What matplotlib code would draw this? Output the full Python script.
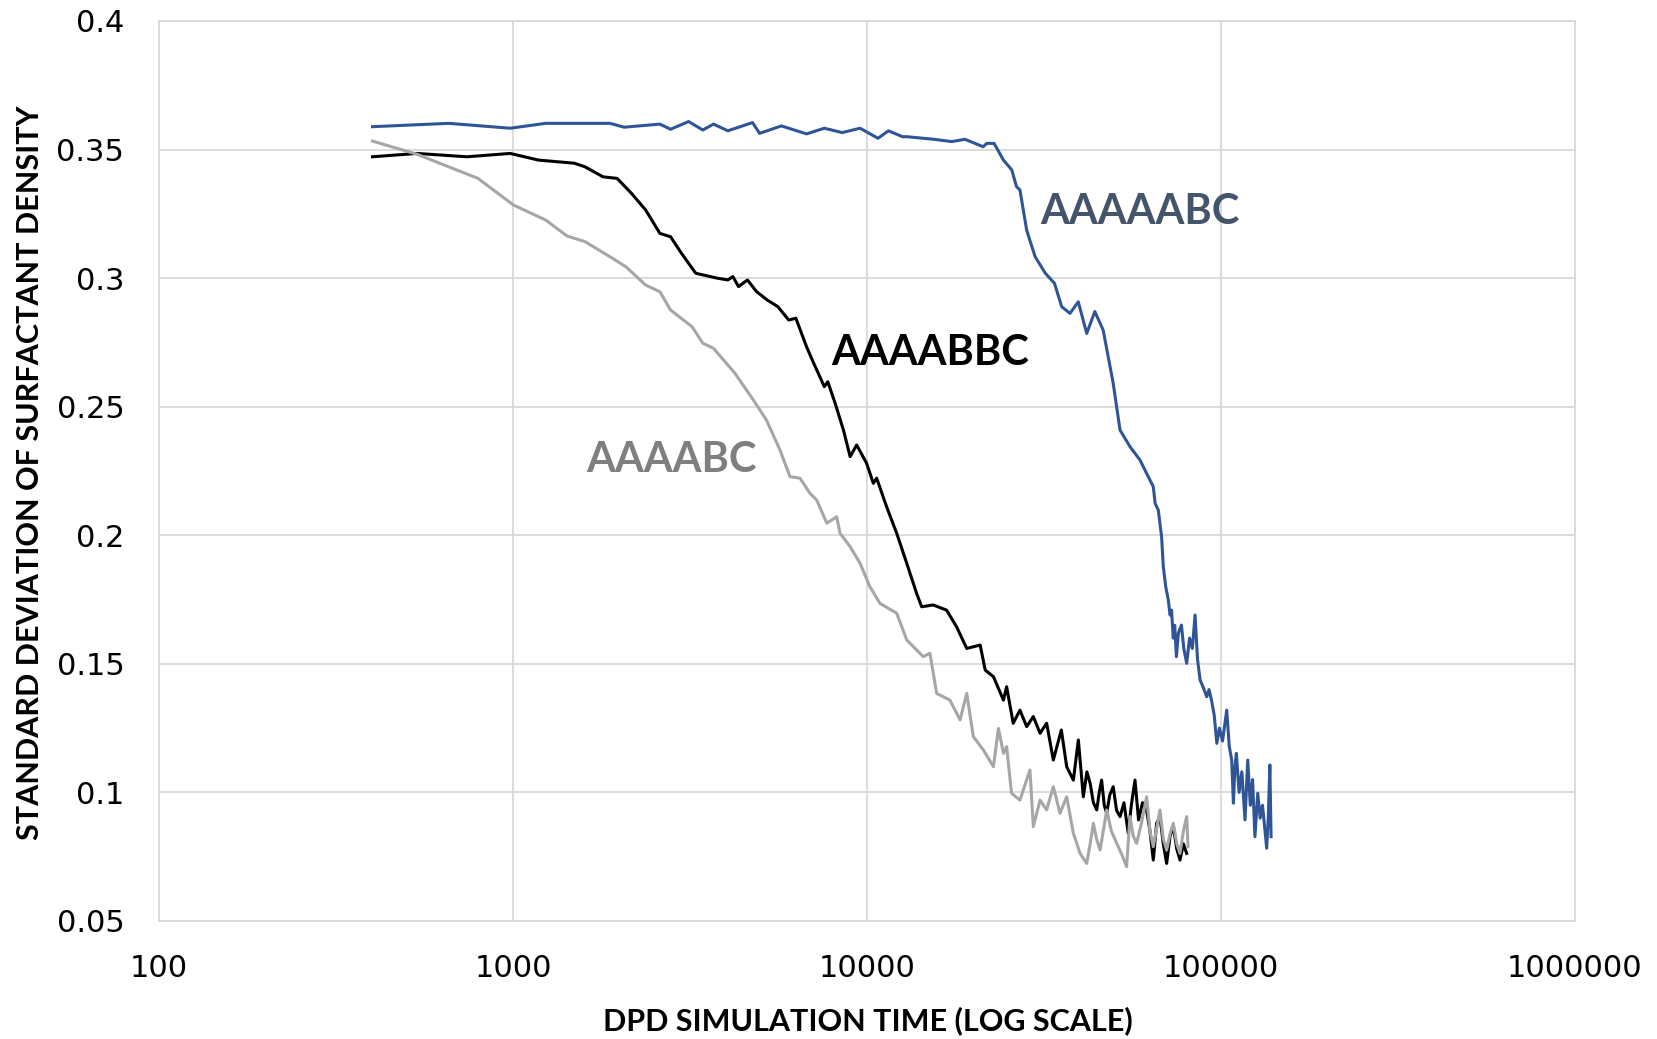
import matplotlib
matplotlib.use("Agg")
import matplotlib.pyplot as plt
from matplotlib.ticker import FixedLocator, NullLocator

# AAAAABC (blue)
blue_t = [401, 659, 982, 1237, 1880, 2060, 2600, 2787, 3133, 3438, 3685, 4045, 4750,
          4972, 5730, 6750, 7577, 8510, 9560, 10740, 11500, 12600, 12970, 15450, 17360,
          18910, 21290, 21790, 22860, 24290, 25640, 26440, 27040, 28250, 28830, 29860,
          31900, 33850, 35480, 37450, 39520, 41750, 44020, 46470, 49600, 51860, 55300,
          59020, 61630, 64380, 65150, 66500, 67950, 68710, 69800, 70980, 71800, 72500,
          73300, 74000, 74820, 75800, 77300, 78500, 80000, 81500, 83000, 84480, 85800,
          87290, 89000, 91160, 92500, 94000, 95700, 97310, 99000, 101000, 103800, 105500,
          107200, 108400, 109500, 110500, 112500, 114500, 116900, 119000, 121000, 122800,
          124700, 127000, 129000, 131000, 134600, 136000, 137400, 138500]
blue_y = [0.3589, 0.3602, 0.3583, 0.3602, 0.3602, 0.3587, 0.3599, 0.3579, 0.3609, 0.3576,
          0.3599, 0.3573, 0.3605, 0.3563, 0.3592, 0.3561, 0.3583, 0.3566, 0.3583, 0.3544,
          0.3573, 0.3550, 0.3550, 0.3540, 0.3531, 0.3540, 0.3511, 0.3524, 0.3524, 0.3459,
          0.3421, 0.3356, 0.3343, 0.3187, 0.3148, 0.3083, 0.3019, 0.2980, 0.2889, 0.2863,
          0.2908, 0.2785, 0.2870, 0.2798, 0.2591, 0.2409, 0.2345, 0.2293, 0.2241, 0.2189,
          0.2124, 0.2098, 0.1994, 0.1878, 0.1800, 0.1748, 0.1690, 0.1709, 0.1600, 0.1650,
          0.1528, 0.1620, 0.1651, 0.1560, 0.1502, 0.1600, 0.1560, 0.1690, 0.1520, 0.1437,
          0.1410, 0.1372, 0.1400, 0.1359, 0.1300, 0.1191, 0.1250, 0.1200, 0.1320, 0.1180,
          0.1126, 0.0958, 0.1100, 0.1152, 0.1000, 0.1080, 0.0893, 0.1126, 0.0950, 0.1050,
          0.0828, 0.0997, 0.0900, 0.0950, 0.0783, 0.0900, 0.1107, 0.0828]

# AAAABBC (black)
black_t = [401, 535, 741, 982, 1181, 1489, 1597, 1796, 1968, 2160, 2370, 2600, 2787, 2990,
           3282, 3770, 4045, 4180, 4336, 4595, 4872, 5225, 5601, 6010, 6296, 6750, 7070,
           7577, 7750, 8130, 8580, 8960, 9350, 9975, 10420, 10650, 11360, 12130, 12950,
           13810, 14270, 15380, 16780, 17910, 19130, 20880, 21570, 22760, 24290, 24800,
           25880, 27040, 28250, 29500, 30820, 32170, 33600, 35400, 36650, 38280, 39540,
           40840, 41800, 42700, 43600, 44560, 45300, 46000, 46800, 47550, 48500, 49600,
           50700, 51860, 53200, 54700, 55800, 57150, 58500, 60000, 61630, 63000, 64380,
           65800, 67240, 68700, 70220, 71800, 73340, 75000, 76590, 78300, 80000]
black_y = [0.3472, 0.3485, 0.3472, 0.3485, 0.3459, 0.3447, 0.3433, 0.3394, 0.3388, 0.3330,
           0.3265, 0.3174, 0.3161, 0.3097, 0.3019, 0.3000, 0.2993, 0.3006, 0.2967, 0.2993,
           0.2948, 0.2915, 0.2889, 0.2837, 0.2844, 0.2733, 0.2669, 0.2578, 0.2597, 0.2513,
           0.2409, 0.2306, 0.2351, 0.2280, 0.2202, 0.2222, 0.2111, 0.2008, 0.1891, 0.1774,
           0.1722, 0.1729, 0.1709, 0.1644, 0.1560, 0.1573, 0.1476, 0.1450, 0.1359, 0.1411,
           0.1269, 0.1320, 0.1256, 0.1295, 0.1230, 0.1269, 0.1126, 0.1243, 0.1100, 0.1048,
           0.1204, 0.0983, 0.1080, 0.1035, 0.0960, 0.0932, 0.1000, 0.1048, 0.0950, 0.0919,
           0.0990, 0.1022, 0.0930, 0.0906, 0.0960, 0.0841, 0.0950, 0.1048, 0.0893, 0.0960,
           0.0932, 0.0850, 0.0737, 0.0880, 0.0906, 0.0800, 0.0724, 0.0830, 0.0867, 0.0780,
           0.0737, 0.0800, 0.0763]

# AAAABC (grey)
grey_t = [401, 535, 796, 1004, 1237, 1421, 1597, 1880, 2085, 2370, 2600, 2787, 3205, 3438,
          3685, 4237, 4775, 5200, 5676, 6060, 6467, 6904, 7210, 7700, 8210, 8390, 8960,
          9560, 10190, 10880, 12130, 12950, 13810, 14420, 15060, 15730, 17150, 18320,
          19130, 19970, 21320, 22760, 23510, 24290, 24800, 25600, 27040, 28860, 29500,
          30820, 32170, 33600, 35100, 36650, 38280, 39980, 41750, 42700, 43600, 44500,
          45530, 46500, 47550, 49000, 50740, 52400, 54120, 55300, 56500, 57760, 59600,
          61630, 63000, 64380, 65800, 67240, 68700, 70220, 71800, 73340, 75000, 76590,
          78300, 80000, 80700]
grey_y = [0.3533, 0.3482, 0.3388, 0.3284, 0.3226, 0.3164, 0.3142, 0.3083, 0.3044, 0.2973,
          0.2947, 0.2876, 0.2811, 0.2747, 0.2727, 0.2630, 0.2526, 0.2448, 0.2332, 0.2228,
          0.2222, 0.2163, 0.2137, 0.2047, 0.2072, 0.2008, 0.1956, 0.1891, 0.1800, 0.1735,
          0.1697, 0.1593, 0.1554, 0.1528, 0.1541, 0.1385, 0.1359, 0.1282, 0.1385, 0.1217,
          0.1165, 0.1100, 0.1249, 0.1152, 0.1178, 0.0997, 0.0970, 0.1087, 0.0867, 0.0970,
          0.0932, 0.1022, 0.0919, 0.0983, 0.0841, 0.0763, 0.0724, 0.0800, 0.0880, 0.0820,
          0.0776, 0.0850, 0.0932, 0.0850, 0.0802, 0.0760, 0.0711, 0.0906, 0.0830, 0.0802,
          0.0880, 0.0983, 0.0850, 0.0789, 0.0860, 0.0932, 0.0820, 0.0776, 0.0840, 0.0880,
          0.0800, 0.0763, 0.0850, 0.0906, 0.0789]

x_ticks = [100, 1000, 10000, 100000, 1000000]
x_labels = ["100", "1000", "10000", "100000", "1000000"]
y_ticks = [0.05, 0.1, 0.15, 0.2, 0.25, 0.3, 0.35, 0.4]
y_labels = ["0.05", "0.1", "0.15", "0.2", "0.25", "0.3", "0.35", "0.4"]

grid_col = "#d9d9d9"

fig = plt.figure(figsize=(16.58, 10.39), dpi=100)
ax = fig.add_axes([159 / 1658, 1 - 921 / 1039, 1416 / 1658, 900 / 1039])

ax.plot(blue_t, blue_y, color="#2f5597", lw=2.2, zorder=3)
ax.plot(black_t, black_y, color="#000000", lw=2.2, zorder=3)
ax.plot(grey_t, grey_y, color="#a6a6a6", lw=2.2, zorder=4)

ax.set_xscale("log")
ax.set_xlim(100, 1000000)
ax.set_ylim(0.05, 0.4)
ax.xaxis.set_major_locator(FixedLocator(x_ticks))
ax.xaxis.set_minor_locator(NullLocator())
ax.set_xticklabels(x_labels)
ax.set_yticks(y_ticks)
ax.set_yticklabels(y_labels)
ax.tick_params(length=0, labelsize=22, colors="#000000")
ax.tick_params(axis="y", pad=25)
ax.tick_params(axis="x", pad=24)
for lab in ax.get_xticklabels() + ax.get_yticklabels():
    lab.set_family("DejaVu Sans")
ax.grid(True, color=grid_col, lw=1.3)
ax.set_axisbelow(True)
for s in ax.spines.values():
    s.set_color(grid_col)
    s.set_linewidth(1.3)

ax.text(30800, 0.3257, "AAAAABC", color="#44546a", fontsize=30, fontweight="bold",
        family="Lato", ha="left", va="center")
ax.text(7910, 0.2709, "AAAABBC", color="#000000", fontsize=30, fontweight="bold",
        family="Lato", ha="left", va="center")
ax.text(1607, 0.2293, "AAAABC", color="#7f7f7f", fontsize=30, fontweight="bold",
        family="Lato", ha="left", va="center")

fig.text(868 / 1658, 1 - 1021 / 1039, "DPD SIMULATION TIME (LOG SCALE)", fontsize=22,
         fontweight="bold", family="Lato", ha="center", va="center")
fig.text(30 / 1658, 1 - 473 / 1039, "STANDARD DEVIATION OF SURFACTANT DENSITY", fontsize=22,
         fontweight="bold", family="Lato", ha="center", va="center", rotation=90)

fig.savefig("out.png", dpi=100, facecolor="white")
